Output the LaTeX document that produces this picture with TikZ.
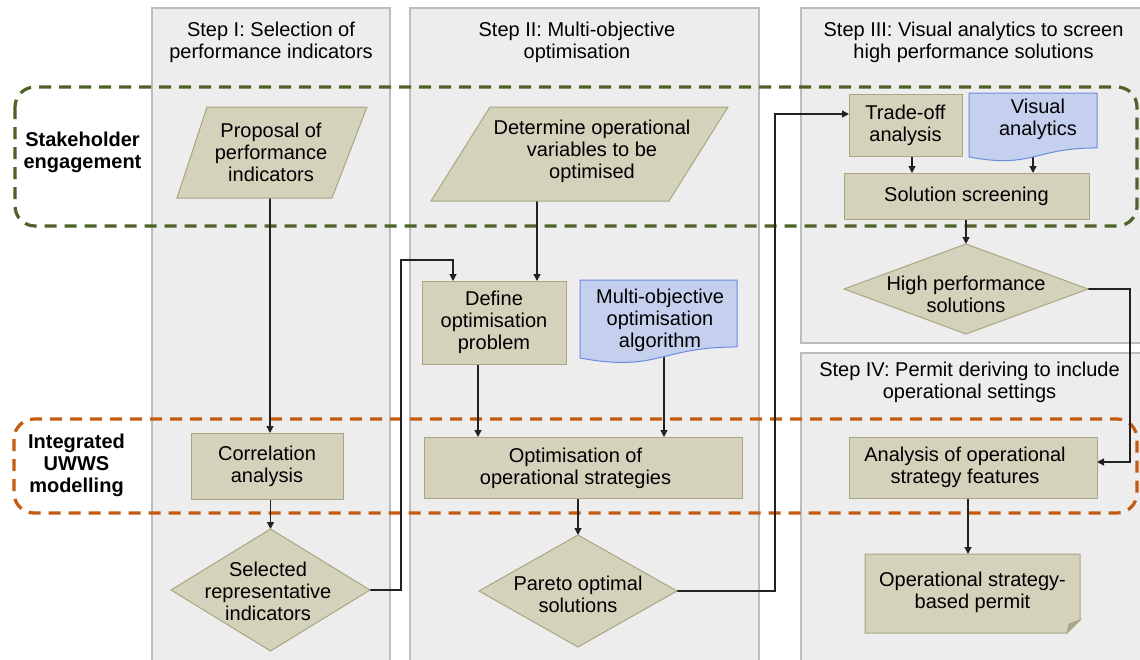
\documentclass[tikz,border=0pt]{standalone}
\usepackage{fontspec}
\setmainfont{Liberation Sans}
\usetikzlibrary{calc,arrows.meta}
\pgfdeclarelayer{bg}
\pgfdeclarelayer{conn}
\pgfsetlayers{bg,conn,main}
\definecolor{panelfill}{HTML}{EDEDED}
\definecolor{panelline}{HTML}{BDBDBD}
\definecolor{tanfill}{HTML}{D4D2BB}
\definecolor{tanline}{HTML}{A9A682}
\definecolor{bluefill}{HTML}{C5D0EE}
\definecolor{blueline}{HTML}{6A8BDE}
\definecolor{greendash}{HTML}{4F6228}
\definecolor{orangedash}{HTML}{C55A11}
\definecolor{foldfill}{HTML}{A8A68C}
\definecolor{connline}{HTML}{222222}
\begin{document}
\begin{tikzpicture}[x=1pt, y={(0pt,-1pt)},
  every node/.style={font=\fontsize{20}{22}\selectfont, align=center, inner sep=0pt, outer sep=0pt},
  boldlab/.style={font=\fontsize{20}{22}\selectfont\bfseries},
  panel/.style={fill=panelfill, draw=panelline, line width=1.2pt},
  grp/.style={line width=3.2pt, dash pattern=on 12pt off 8pt, rounded corners=20pt},
  tanbox/.style={fill=tanfill, draw=tanline, line width=1pt},
  bluedoc/.style={fill=bluefill, draw=blueline, line width=1pt},
  arr/.style={draw=connline, line width=1.3pt, -{Triangle[length=7pt,width=7pt]}}
]
\useasboundingbox (0,0) rectangle (1140,659);

\begin{pgfonlayer}{bg}
  \fill[white] (0,0) rectangle (1140,659);
  \path[panel] (152,8) rectangle (390,670);
  \path[panel] (410,8) rectangle (759,670);
  \path[panel] (801,8) rectangle (1150,343);
  \path[panel] (801,353) rectangle (1150,670);
  \draw[grp, draw=greendash] (15,87) rectangle (1137,226);
  \draw[grp, draw=orangedash] (14,419) rectangle (1137,513);
\end{pgfonlayer}

% titles and group labels
\node (t1) at (271,42) {Step I: Selection of\\performance indicators};
\node (t2) at (577,42) {Step II: Multi-objective\\optimisation};
\node (t3) at (973.5,42) {Step III: Visual analytics to screen\\high performance solutions};
\node (t4) at (969.5,382) {Step IV: Permit deriving to include\\operational settings};
\node[boldlab] (lab1) at (82.5,152) {Stakeholder\\engagement};
\node[boldlab] (lab2) at (76.5,465) {Integrated\\UWWS\\modelling};

% Proposal
\node[minimum width=190pt, minimum height=91pt] (prop) at (272,152.5) {};
\path[tanbox] (prop.south west) -- ([xshift=30pt]prop.north west) -- (prop.north east) -- ([xshift=-35pt]prop.south east) -- cycle;
\node (propT) at (271,152) {Proposal of\\performance\\indicators};

% Determine
\node[minimum width=297pt, minimum height=94pt] (det) at (579.5,154) {};
\path[tanbox] (det.south west) -- ([xshift=59pt]det.north west) -- (det.north east) -- ([xshift=-59pt]det.south east) -- cycle;
\node (detT) at (592,151.5) {Determine operational\\variables to be\\optimised};

% Trade-off
\node[tanbox, minimum width=113pt, minimum height=62pt] (tra) at (905.5,125) {Trade-off\\analysis};

% Visual analytics
\node[minimum width=128pt, minimum height=68.5pt] (va) at (1033,127.25) {};
\path[bluedoc] (va.north west) -- (va.north east) -- ($(va.north east)!0.802!(va.south east)$) .. controls ($(va.north)!0.802!(va.south)$) and ($(va.north)!1.108!(va.south)$) .. ($(va.north west)!0.934!(va.south west)$) -- cycle;
\node (vaT) at (1038,119) {Visual\\analytics};

% Solution screening
\node[tanbox, minimum width=245pt, minimum height=46pt] (ss) at (966.5,196) {Solution screening};

% High performance solutions
\node[minimum width=244pt, minimum height=90pt] (hp) at (966,289) {};
\path[tanbox] (hp.north) -- (hp.east) -- (hp.south) -- (hp.west) -- cycle;
\node (hpT) at (966,294) {High performance\\solutions};

% Define
\node[tanbox, minimum width=144pt, minimum height=83pt] (def) at (494,322.5) {Define\\optimisation\\problem};

% Multi-objective algorithm
\node[minimum width=157pt, minimum height=83.5pt] (moa) at (658.5,321.75) {};
\path[bluedoc] (moa.north west) -- (moa.north east) -- ($(moa.north east)!0.802!(moa.south east)$) .. controls ($(moa.north)!0.802!(moa.south)$) and ($(moa.north)!1.108!(moa.south)$) .. ($(moa.north west)!0.934!(moa.south west)$) -- cycle;
\node (moaT) at (660,320) {Multi-objective\\optimisation\\algorithm};

% Optimisation
\node[tanbox, minimum width=318pt, minimum height=61pt] (opt) at (583,467.5) {};
\node (optT) at (575.5,468) {Optimisation of\\operational strategies};

% Correlation
\node[tanbox, minimum width=152pt, minimum height=66pt] (corr) at (267,466) {Correlation\\analysis};

% Selected
\node[minimum width=199pt, minimum height=122pt] (sel) at (270.5,590) {};
\path[tanbox] (sel.north) -- (sel.east) -- (sel.south) -- (sel.west) -- cycle;
\node (selT) at (268,591) {Selected\\representative\\indicators};

% Pareto
\node[minimum width=198pt, minimum height=112pt] (par) at (578,591) {};
\path[tanbox] (par.north) -- (par.east) -- (par.south) -- (par.west) -- cycle;
\node (parT) at (578,594.5) {Pareto optimal\\solutions};

% Analysis
\node[tanbox, minimum width=248pt, minimum height=61pt] (ana) at (973,467.5) {};
\node (anaT) at (965,467.5) {Analysis of operational\\strategy features};

% Permit
\node[minimum width=215pt, minimum height=79pt] (pm) at (972.5,593.5) {};
\path[tanbox] (pm.north west) -- (pm.north east) -- ([yshift=13pt]pm.south east) -- ([xshift=-13pt]pm.south east) -- (pm.south west) -- cycle;
\path[fill=foldfill, draw=tanline, line width=0.8pt] ([yshift=13pt]pm.south east) -- ([xshift=-13pt]pm.south east) -- ([xshift=-11pt,yshift=9pt]pm.south east) -- cycle;
\node (pmT) at (972.5,592) {Operational strategy-\\based permit};

% connectors
\begin{pgfonlayer}{conn}
  \draw[arr] ([xshift=-2pt]prop.south) -- ([xshift=-2pt]prop.south |- corr.north);
  \draw[arr] (sel.north |- corr.south) -- (sel.north);
  \coordinate (j1) at (401,260);
  \draw[arr] (sel.east) -| (j1) -| ([xshift=-41pt]def.north);
  \draw[arr] ([xshift=-42.5pt]det.south) -- ([xshift=-42.5pt]det.south |- def.north);
  \draw[arr] ([xshift=-16pt]def.south) -- ([xshift=-16pt]def.south |- opt.north);
  \draw[arr] ([xshift=5.5pt]moa.center) -- ([xshift=5.5pt]moa.center |- opt.north);
  \draw[arr] (par.north |- opt.south) -- (par.north);
  \coordinate (j2) at (775,114);
  \draw[arr] (par.east) -| (j2) -- (j2 -| tra.west);
  \draw[arr] ([xshift=6.5pt]tra.south) -- ([xshift=6.5pt]tra.south |- ss.north);
  \draw[arr] (va.center) -- (va.center |- ss.north);
  \draw[arr] (hp.north |- ss.south) -- (hp.north);
  \coordinate (j3) at (1130,462);
  \draw[arr] (hp.east) -| (j3) -- (j3 -| ana.east);
  \draw[arr] ([xshift=-5pt]ana.south) -- ([xshift=-5pt]ana.south |- pm.north);
\end{pgfonlayer}
\end{tikzpicture}
\end{document}
